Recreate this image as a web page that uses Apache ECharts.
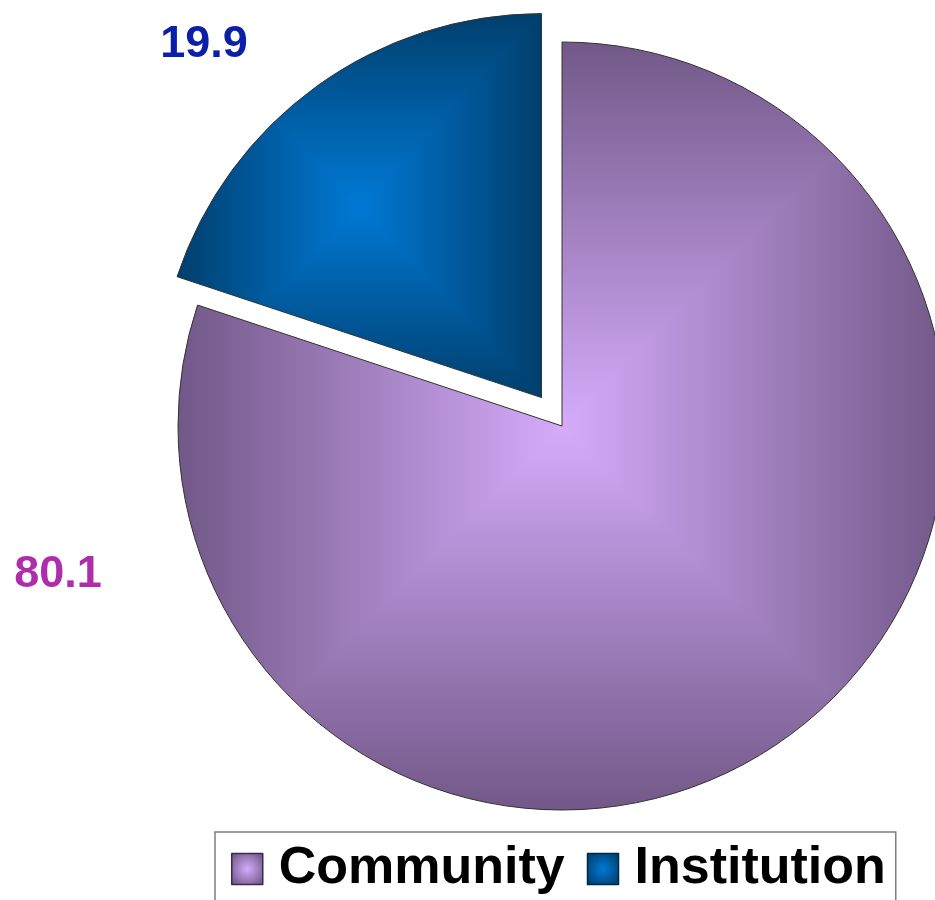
<!DOCTYPE html>
<html>
<head>
<meta charset="utf-8">
<script src="https://cdn.jsdelivr.net/npm/echarts@6/dist/echarts.min.js"></script>
<style>
  html, body { margin: 0; padding: 0; background: #ffffff; }
  #chart { width: 935px; height: 900px; }
</style>
</head>
<body>
<div id="chart"></div>
<script>
// Share of people by setting (percent)
const categories = ['Community', 'Institution'];
const shares = [80.1, 19.9];

// Slice shading: light centre fading to a darker rim, plus value label colours
const innerColors = ['#d5abfa', '#0079d5'];
const outerColors = ['#725888', '#003f6d'];
const labelColors = ['#ad2dab', '#0c1fa9'];
const rimColors = ['#3b2b4f', '#00284a'];

const W = 935, H = 900;
const PIE_CENTER = [562, 426];
const PIE_RADIUS = 384;
const chart = echarts.init(document.getElementById('chart'), null, { renderer: 'canvas' });

// Where each value label sits (label centre)
const labelSpots = [{ x: 58, y: 575 }, { x: 204, y: 45 }];

function radial(inner, outer) {
  return {
    type: 'radial', x: 0.5, y: 0.5, r: 0.62,
    colorStops: [{ offset: 0, color: inner }, { offset: 1, color: outer }]
  };
}

function buildData(fills) {
  return categories.map((name, i) => ({
    name: name,
    value: shares[i],
    selected: i === 1,
    itemStyle: { color: fills[i] }
  }));
}

chart.setOption({
  animation: false,
  backgroundColor: '#ffffff',
  legend: {
    left: 215,
    top: 832,
    orient: 'horizontal',
    selectedMode: false,
    icon: 'rect',
    itemWidth: 31,
    itemHeight: 31,
    itemGap: 22,
    borderColor: '#7f7f7f',
    borderWidth: 1.5,
    padding: [11, 10, 30, 16],
    textStyle: {
      fontFamily: '"Liberation Sans", Arial, sans-serif',
      fontWeight: 'bold',
      fontSize: 52,
      color: '#000000',
      padding: [0, 0, 0, 11]
    },
    data: categories.map((name, i) => ({
      name: name,
      itemStyle: {
        color: radial(innerColors[i], outerColors[i]),
        borderColor: rimColors[i],
        borderWidth: 1.5
      }
    }))
  },
  series: [{
    // the slices, Institution pulled out from the centre
    type: 'pie',
    center: PIE_CENTER,
    radius: PIE_RADIUS,
    startAngle: 90,
    clockwise: true,
    selectedMode: 'multiple',
    selectedOffset: 35,
    emphasis: { disabled: true },
    itemStyle: { borderColor: '#333333', borderWidth: 1 },
    label: { show: false },
    labelLine: { show: false },
    data: buildData(categories.map((n, i) => radial(innerColors[i], outerColors[i])))
  }, {
    // value labels only
    type: 'pie',
    center: PIE_CENTER,
    radius: PIE_RADIUS,
    startAngle: 90,
    clockwise: true,
    silent: true,
    selectedMode: false,
    avoidLabelOverlap: false,
    emphasis: { disabled: true },
    itemStyle: { color: 'rgba(0,0,0,0)', borderWidth: 0 },
    label: {
      show: true,
      position: 'outside',
      formatter: '{c}',
      fontFamily: '"Liberation Sans", Arial, sans-serif',
      fontWeight: 'bold',
      fontSize: 45
    },
    labelLine: { show: false },
    labelLayout: function (p) {
      const s = labelSpots[p.dataIndex];
      return { x: s.x, y: s.y, align: 'center', verticalAlign: 'middle' };
    },
    data: categories.map((name, i) => ({
      name: name,
      value: shares[i],
      label: { color: labelColors[i] }
    }))
  }]
});

// Bounding box of a pie sector from its layout
function sectorBox(L) {
  const a0 = Math.min(L.startAngle, L.endAngle);
  const a1 = Math.max(L.startAngle, L.endAngle);
  const pts = [[L.cx, L.cy],
    [L.cx + L.r * Math.cos(a0), L.cy + L.r * Math.sin(a0)],
    [L.cx + L.r * Math.cos(a1), L.cy + L.r * Math.sin(a1)]];
  for (let k = -8; k <= 8; k++) {
    const a = k * Math.PI / 2;
    if (a > a0 && a < a1) pts.push([L.cx + L.r * Math.cos(a), L.cy + L.r * Math.sin(a)]);
  }
  const xs = pts.map(p => p[0]), ys = pts.map(p => p[1]);
  return { x0: Math.min(...xs), x1: Math.max(...xs), y0: Math.min(...ys), y1: Math.max(...ys) };
}

// Rectangular "box" gradient: light at the box centre, dark along its edges
function boxGradientCanvas(b, inner, outer) {
  const c = document.createElement('canvas');
  c.width = W; c.height = H;
  const g = c.getContext('2d');
  g.fillStyle = outer;
  g.fillRect(0, 0, W, H);
  const cx = (b.x0 + b.x1) / 2, cy = (b.y0 + b.y1) / 2;
  const sides = [
    [[b.x0, b.y0], [b.x1, b.y0], [cx, b.y0]],
    [[b.x1, b.y0], [b.x1, b.y1], [b.x1, cy]],
    [[b.x1, b.y1], [b.x0, b.y1], [cx, b.y1]],
    [[b.x0, b.y1], [b.x0, b.y0], [b.x0, cy]]
  ];
  sides.forEach(([p, q, m]) => {
    const lg = g.createLinearGradient(m[0], m[1], cx, cy);
    lg.addColorStop(0, outer);
    lg.addColorStop(1, inner);
    g.fillStyle = lg;
    g.strokeStyle = lg;
    g.lineWidth = 1;
    g.beginPath();
    g.moveTo(p[0], p[1]);
    g.lineTo(q[0], q[1]);
    g.lineTo(cx, cy);
    g.closePath();
    g.fill();
    g.stroke();
  });
  return c;
}

const pieData = chart.getModel().getSeriesByIndex(0).getData();
const fills = categories.map((n, i) => {
  const box = sectorBox(pieData.getItemLayout(i));
  return { image: boxGradientCanvas(box, innerColors[i], outerColors[i]), repeat: 'no-repeat' };
});
chart.setOption({ series: [{ data: buildData(fills) }] });
</script>
</body>
</html>
